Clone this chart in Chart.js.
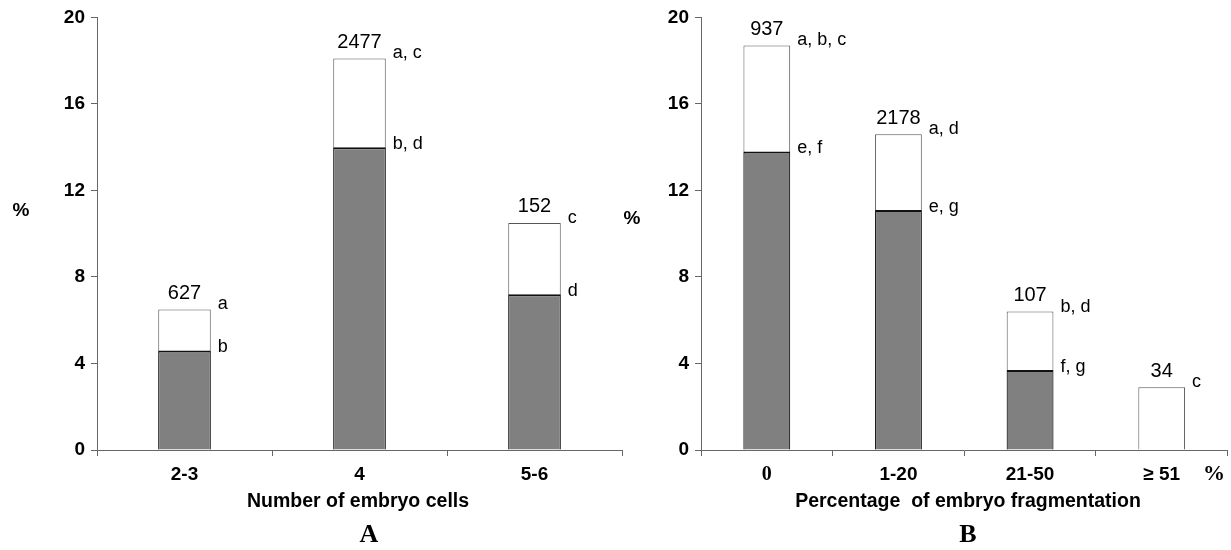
<!DOCTYPE html>
<html>
<head>
<meta charset="utf-8">
<script src="https://cdn.jsdelivr.net/npm/chart.js@4.4.1/dist/chart.umd.min.js"></script>
<style>
    body { margin: 0; background: #fff; width: 1231px; height: 550px; overflow: hidden; position: relative; }
    .box { position: absolute; top: 0; height: 550px; }
    .txt { position: absolute; transform: translate(-50%, -50%); white-space: pre; color: #000;
           font-family: "Liberation Sans", Arial, sans-serif; font-weight: bold; }
    .serif { font-family: "Liberation Serif", "Times New Roman", serif; }
</style>
</head>
<body>
<div class="box" style="left:0; width:630px;"><canvas id="chartA"></canvas></div>
<div class="box" style="left:630px; width:601px;"><canvas id="chartB"></canvas></div>

<div class="txt" style="left:21px; top:210px; font-size:19px;">%</div>
<div class="txt" style="left:358px; top:500px; font-size:19.5px;">Number of embryo cells</div>
<div class="txt serif" style="left:369px; top:534px; font-size:26px;">A</div>

<div class="txt" style="left:632px; top:218px; font-size:19px;">%</div>
<div class="txt" style="left:968px; top:500px; font-size:19.5px;">Percentage  of embryo fragmentation</div>
<div class="txt serif" style="left:968px; top:534px; font-size:26px;">B</div>
<div class="txt serif" style="left:1214px; top:473px; font-size:22px;">%</div>

<script>
// panel A - number of embryo cells
const cellLabels = ['2-3', '4', '5-6'];
const cellTotal = [6.5, 18.1, 10.5];
const cellGray = [4.6, 14.0, 7.2];
const cellCounts = ['627', '2477', '152'];
const cellTopLetters = ['a', 'a, c', 'c'];
const cellGrayLetters = ['b', 'b, d', 'd'];

// panel B - fragmentation
const fragLabels = ['0', '1-20', '21-50', '\u2265 51'];
const fragTotal = [18.7, 14.6, 6.4, 2.9];
const fragGray = [13.8, 11.1, 3.7, 0];
const fragCounts = ['937', '2178', '107', '34'];
const fragTopLetters = ['a, b, c', 'a, d', 'b, d', 'c'];
const fragGrayLetters = ['e, f', 'e, g', 'f, g', ''];

const yTicks = [0, 4, 8, 12, 16, 20];
const SANS = '"Liberation Sans", Arial, sans-serif';

// writes the n values above bars and the letters beside them
const labelPlugin = {
    id: 'barNotes',
    afterDatasetsDraw(chart, args, opts) {
        const ctx = chart.ctx;
        const whiteMeta = chart.getDatasetMeta(1);
        const grayMeta = chart.getDatasetMeta(0);
        ctx.save();
        ctx.fillStyle = '#000';
        whiteMeta.data.forEach((bar, i) => {
            const right = bar.x + bar.width / 2;
            ctx.font = '20px ' + SANS;
            ctx.textAlign = 'center';
            ctx.textBaseline = 'middle';
            ctx.fillText(opts.counts[i], bar.x, bar.y - 16);

            ctx.font = '18px ' + SANS;
            ctx.textAlign = 'left';
            ctx.fillText(opts.top[i], right + 7, bar.y - 5);
            if (opts.gray[i]) {
                ctx.fillText(opts.gray[i], right + 7, grayMeta.data[i].y - 3);
            }
        });
        ctx.restore();
    }
};

function makeChart(id, labels, total, gray, notes, cfg) {
    const ctx = document.getElementById(id).getContext('2d');
    return new Chart(ctx, {
        type: 'bar',
        data: {
            labels: labels,
            datasets: [
                {
                    data: gray,
                    backgroundColor: '#808080',
                    borderColor: '#111',
                    borderWidth: { top: 2, left: 1, right: 1, bottom: 0 },
                    borderSkipped: 'start',
                    barPercentage: cfg.barPct,
                    categoryPercentage: 1,
                    order: 0
                },
                {
                    data: total,
                    backgroundColor: '#fff',
                    borderColor: '#555',
                    borderWidth: 1,
                    borderSkipped: 'start',
                    barPercentage: cfg.barPct,
                    categoryPercentage: 1,
                    order: 1
                }
            ]
        },
        options: {
            responsive: true,
            maintainAspectRatio: false,
            animation: false,
            layout: { padding: { left: 0, right: cfg.padRight, top: 15, bottom: 50 } },
            plugins: {
                legend: { display: false },
                tooltip: { enabled: false },
                barNotes: notes
            },
            scales: {
                x: {
                    stacked: true,
                    grid: { display: true, drawOnChartArea: false, drawTicks: true, tickLength: 6, color: '#666', offset: true },
                    border: { color: '#666', width: 1 },
                    ticks: {
                        color: '#000',
                        padding: 7,
                        maxRotation: 0,
                        font: cfg.xFont
                    },
                    afterFit: s => { s.height = 50; }
                },
                y: {
                    stacked: false,
                    min: 0,
                    max: 20,
                    afterBuildTicks: s => { s.ticks = yTicks.map(v => ({ value: v })); },
                    grid: { display: true, drawOnChartArea: false, drawTicks: true, tickLength: 6, color: '#666' },
                    border: { color: '#666', width: 1 },
                    ticks: {
                        color: '#000',
                        padding: 6,
                        font: { family: SANS, weight: 'bold', size: 19 }
                    },
                    afterFit: s => { s.width = cfg.yWidth; }
                }
            }
        },
        plugins: [labelPlugin]
    });
}

makeChart('chartA', cellLabels, cellTotal, cellGray,
    { counts: cellCounts, top: cellTopLetters, gray: cellGrayLetters },
    { barPct: 0.30, padRight: 8, yWidth: 97,
      xFont: { family: SANS, weight: 'bold', size: 19 } });

makeChart('chartB', fragLabels, fragTotal, fragGray,
    { counts: fragCounts, top: fragTopLetters, gray: fragGrayLetters },
    { barPct: 0.355, padRight: 3.5, yWidth: 71,
      xFont: c => c.index === 0
          ? { family: '"Liberation Serif", serif', weight: 'bold', size: 20 }
          : { family: SANS, weight: 'bold', size: 19 } });
</script>
</body>
</html>
